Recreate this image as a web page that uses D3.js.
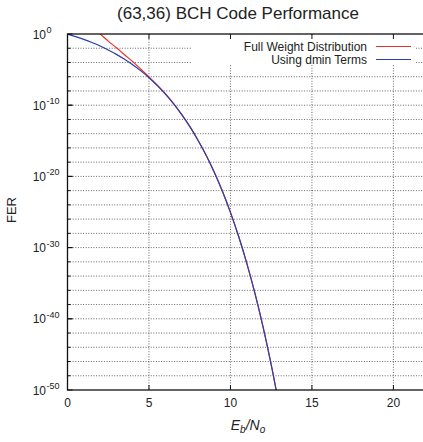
<!DOCTYPE html>
<html>
<head>
<meta charset="utf-8">
<style>
  body { margin: 0; background: #fff; }
  text { font-family: "Liberation Sans", Arial, Helvetica, sans-serif; fill: #222; }
</style>
</head>
<body>
<div id="chart"></div>
<script src="https://cdn.jsdelivr.net/npm/d3@7"></script>
<script>
    // Eb/No (dB) points and log10(FER)
    var ebno = [0, 0.5, 1, 1.5, 2, 2.5, 3, 3.5, 4, 4.5, 5, 5.5, 6, 6.5, 7, 7.5, 8, 8.5, 9, 9.5, 10, 10.5, 11, 11.5, 12, 12.5, 13];
    var dminExp = [-0.01, -0.37, -0.76, -1.20, -1.69, -2.25, -2.86, -3.55, -4.32, -5.18, -6.14, -7.22, -8.42, -9.77, -11.29, -12.98, -14.88, -17.00, -19.39, -22.06, -25.05, -28.41, -32.17, -36.39, -41.12, -46.42, -52.37];

    var ebnoFull = [1.5, 2, 2.5, 3, 3.5, 4, 4.5, 5, 5.5, 6, 6.5, 7, 7.5, 8, 8.5, 9, 9.5, 10, 10.5, 11, 11.5, 12, 12.5, 13];
    var fullExp = [0.95, 0.0, -1.0, -1.92, -2.92, -3.88, -4.95, -6.02, -7.16, -8.39, -9.76, -11.28, -12.97, -14.88, -17.00, -19.39, -22.06, -25.05, -28.41, -32.17, -36.39, -41.12, -46.42, -52.37];

    var xTicks = [0, 5, 10, 15, 20];
    var yMajor = [0, -10, -20, -30, -40, -50];
    var yGrid = [-2, -4, -6, -8, -10, -12, -14, -16, -18, -20, -22, -24, -26, -28, -30, -32, -34, -36, -38, -40, -42, -44, -46, -48];

    var legendNames = ["Full Weight Distribution", "Using dmin Terms"];
    var legendColors = ["#e8302a", "#2a3fb0"];

    var width = 423, height = 442;
    var svg = d3.select("#chart").append("svg")
        .attr("width", width)
        .attr("height", height);

    var pTop = 34, pBottom = 390, pLeft = 67.5, pRight = 426;
    var x = d3.scaleLinear().domain([0, 22]).range([pLeft, pRight]);
    var y = d3.scaleLog().domain([1e-50, 1]).range([pBottom, pTop]);

    svg.append("defs").append("clipPath").attr("id", "plotclip")
      .append("rect")
        .attr("x", pLeft).attr("y", pTop)
        .attr("width", pRight - pLeft).attr("height", pBottom - pTop);

    // grid
    var grid = svg.append("g")
        .attr("stroke", "#555")
        .attr("stroke-width", 0.9)
        .attr("stroke-dasharray", "1,1.6");
    grid.selectAll(".hg").data(yGrid).enter().append("line")
        .attr("x1", pLeft).attr("x2", pRight)
        .attr("y1", function(d){ return y(Math.pow(10, d)); })
        .attr("y2", function(d){ return y(Math.pow(10, d)); });
    grid.selectAll(".vg").data(xTicks.slice(1)).enter().append("line")
        .attr("y1", pTop).attr("y2", pBottom)
        .attr("x1", function(d){ return x(d); })
        .attr("x2", function(d){ return x(d); });

    // key area is cleared like gnuplot does
    svg.append("rect")
        .attr("x", 192).attr("y", pTop + 1)
        .attr("width", 224).attr("height", 30)
        .attr("fill", "#fff");

    // curves
    var line = d3.line()
        .x(function(d){ return x(d[0]); })
        .y(function(d){ return y(Math.pow(10, d[1])); })
        .curve(d3.curveMonotoneX);

    var curves = svg.append("g").attr("clip-path", "url(#plotclip)");
    curves.append("path")
        .datum(d3.zip(ebnoFull, fullExp))
        .attr("fill", "none")
        .attr("stroke", legendColors[0])
        .attr("stroke-width", 1.2)
        .attr("d", line);
    curves.append("path")
        .datum(d3.zip(ebno, dminExp))
        .attr("fill", "none")
        .attr("stroke", legendColors[1])
        .attr("stroke-width", 1.2)
        .attr("d", line);

    // ticks (inward, mirrored on top)
    var ticks = svg.append("g").attr("stroke", "#111").attr("stroke-width", 1);
    xTicks.forEach(function(t){
        ticks.append("line").attr("x1", x(t)).attr("x2", x(t)).attr("y1", pBottom).attr("y2", pBottom - 5);
        ticks.append("line").attr("x1", x(t)).attr("x2", x(t)).attr("y1", pTop).attr("y2", pTop + 5);
    });
    yGrid.concat(yMajor).forEach(function(t){
        var len = yMajor.indexOf(t) >= 0 ? 5 : 3;
        ticks.append("line").attr("x1", pLeft).attr("x2", pLeft + len)
            .attr("y1", y(Math.pow(10, t))).attr("y2", y(Math.pow(10, t)));
    });

    // border
    svg.append("rect")
        .attr("x", pLeft).attr("y", pTop)
        .attr("width", pRight - pLeft).attr("height", pBottom - pTop)
        .attr("fill", "none")
        .attr("stroke", "#111")
        .attr("stroke-width", 1.3);

    // tick labels
    svg.selectAll(".xl").data(xTicks).enter().append("text")
        .attr("x", function(d){ return x(d); })
        .attr("y", 407)
        .attr("text-anchor", "middle")
        .attr("font-size", 12)
        .text(function(d){ return d; });

    yMajor.forEach(function(t){
        var yy = y(Math.pow(10, t));
        svg.append("text")
            .attr("x", 46).attr("y", yy + 4.5)
            .attr("text-anchor", "end")
            .attr("font-size", 12)
            .text("10");
        svg.append("text")
            .attr("x", 46.5).attr("y", yy - 1)
            .attr("font-size", 9)
            .text(t);
    });

    // legend
    legendNames.forEach(function(name, i){
        var ly = 46.5 + i * 13;
        svg.append("text")
            .attr("x", 367).attr("y", ly + 4)
            .attr("text-anchor", "end")
            .attr("font-size", 12)
            .text(name);
        svg.append("line")
            .attr("x1", 376).attr("x2", 411)
            .attr("y1", ly).attr("y2", ly)
            .attr("stroke", legendColors[i])
            .attr("stroke-width", 1.2);
    });

    // title and axis labels
    svg.append("text")
        .attr("x", 238).attr("y", 19)
        .attr("text-anchor", "middle")
        .attr("font-size", 17)
        .text("(63,36) BCH Code Performance");

    svg.append("text")
        .attr("transform", "translate(16,210) rotate(-90)")
        .attr("text-anchor", "middle")
        .attr("font-size", 13)
        .text("FER");

    var xl = svg.append("text")
        .attr("x", 248).attr("y", 430)
        .attr("text-anchor", "middle")
        .attr("font-size", 14)
        .attr("font-style", "italic");
    xl.append("tspan").text("E");
    xl.append("tspan").attr("font-size", 10).attr("dy", 3).text("b");
    xl.append("tspan").attr("dy", -3).text("/N");
    xl.append("tspan").attr("font-size", 10).attr("dy", 3).text("o");
</script>
</body>
</html>
